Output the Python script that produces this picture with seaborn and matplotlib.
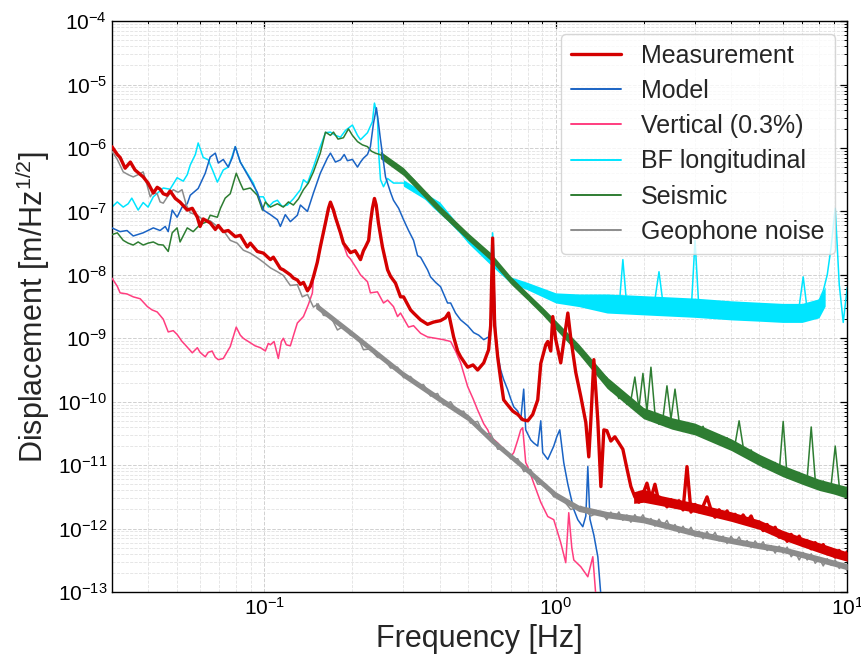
import matplotlib
matplotlib.use("Agg")
import matplotlib.pyplot as plt
import numpy as np
import pandas as pd
import seaborn as sns
from matplotlib.ticker import LogLocator, NullFormatter

# ---------------- data (frequency [Hz], displacement [m/Hz^1/2]) ----------------
# low / mid frequency parts, read as (frequency, value) pairs
measurement = [
    (0.030, 1.05e-6), (0.0313, 7.9e-7), (0.0320, 7.1e-7), (0.0333, 4.8e-7), (0.0347, 6.0e-7),
    (0.0360, 4.5e-7), (0.0384, 3.5e-7), (0.0399, 2.8e-7), (0.0416, 1.95e-7), (0.0429, 2.4e-7),
    (0.0439, 2.24e-7), (0.0450, 1.9e-7), (0.0464, 1.8e-7), (0.0475, 2.1e-7), (0.0495, 1.6e-7),
    (0.0514, 1.4e-7), (0.0544, 1.05e-7), (0.0566, 1.12e-7), (0.0589, 8.1e-8), (0.0602, 5.8e-8),
    (0.0617, 7.6e-8), (0.0652, 6.6e-8), (0.0679, 5.2e-8), (0.0695, 6.0e-8), (0.0723, 4.8e-8),
    (0.0752, 5.0e-8), (0.0795, 4.0e-8), (0.0827, 4.2e-8), (0.0874, 2.75e-8), (0.0895, 3.16e-8),
    (0.0946, 2.34e-8), (0.0993, 2.2e-8), (0.1049, 1.74e-8), (0.1074, 1.9e-8), (0.1135, 1.26e-8),
    (0.1162, 1.2e-8), (0.1228, 1.0e-8), (0.1258, 8.9e-9), (0.1298, 8.3e-9), (0.1330, 7.1e-9),
    (0.1362, 7.6e-9), (0.1406, 5.6e-9), (0.1439, 6.6e-9), (0.1474, 9.3e-9), (0.152, 1.58e-8),
    (0.1556, 2.75e-8), (0.1621, 6.6e-8), (0.166, 1.12e-7), (0.1686, 1.4e-7), (0.1727, 1.05e-7),
    (0.1754, 8.1e-8), (0.1825, 4.6e-8), (0.1868, 3.16e-8), (0.1928, 2.6e-8), (0.1975, 2.24e-8),
    (0.205, 2.4e-8), (0.2138, 1.74e-8), (0.2188, 2.4e-8), (0.2223, 2.75e-8), (0.228, 3.5e-8),
    (0.2312, 6.6e-8), (0.2349, 1.12e-7), (0.2387, 1.6e-7), (0.242, 1.26e-7), (0.2463, 6.6e-8),
    (0.2543, 2.75e-8), (0.2648, 1.2e-8), (0.2710, 9.5e-9), (0.2819, 7.4e-9), (0.2933, 4.5e-9),
    (0.3004, 4.5e-9), (0.3175, 2.8e-9), (0.3251, 2.5e-9), (0.3436, 1.95e-9), (0.3631, 1.66e-9),
    (0.3807, 1.8e-9), (0.4024, 1.9e-9), (0.418, 2.1e-9), (0.4287, 2.5e-9), (0.4462, 1.05e-9),
    (0.4605, 6.3e-10), (0.4716, 5.1e-10), (0.4984, 3.5e-10), (0.520, 3.8e-10), (0.5394, 3.16e-10),
    (0.5660, 4.1e-10), (0.5883, 6.6e-10), (0.5978, 1.58e-9), (0.6072, 3.8e-8), (0.617, 1.58e-9),
    (0.6322, 5.0e-10), (0.6471, 2.24e-10), (0.6624, 1.07e-10), (0.6838, 8.9e-11), (0.712, 7.1e-11),
    (0.7407, 6.3e-11), (0.770, 5.2e-11), (0.8013, 5.0e-11), (0.8334, 6.3e-11), (0.8672, 1.07e-10),
    (0.8882, 4.0e-10), (0.9240, 7.9e-10), (0.9387, 8.9e-10), (0.9612, 6.3e-10), (0.9765, 2.2e-9),
    (1.000, 9.5e-10), (1.040, 4.1e-10), (1.100, 2.5e-9), (1.126, 1.0e-9), (1.171, 2.9e-10),
    (1.219, 1.2e-10), (1.268, 4.7e-11), (1.298, 1.35e-11), (1.319, 5.0e-11), (1.351, 4.6e-10),
    (1.372, 1.58e-10), (1.394, 5.0e-11), (1.428, 4.6e-12), (1.462, 3.6e-11),
]

model = [
    (0.030, 5.5e-8), (0.0320, 4.8e-8), (0.0338, 5.0e-8), (0.0355, 4.1e-8), (0.0384, 4.6e-8),
    (0.0416, 5.5e-8), (0.0439, 5.0e-8), (0.0457, 5.8e-8), (0.0468, 4.8e-8), (0.0483, 1.05e-7),
    (0.0502, 8.1e-8), (0.0522, 1.17e-7), (0.0544, 1.32e-7), (0.0557, 1.8e-7), (0.0593, 2.3e-7),
    (0.0627, 4.0e-7), (0.0652, 7.2e-7), (0.0679, 8.3e-7), (0.0695, 5.8e-7), (0.0723, 6.6e-7),
    (0.0752, 5.0e-7), (0.0777, 7.1e-7), (0.0795, 1.05e-6), (0.0827, 6.0e-7), (0.0895, 3.16e-7),
    (0.0946, 2.0e-7), (0.0993, 1.05e-7), (0.1049, 8.9e-8), (0.1109, 7.4e-8), (0.1135, 5.8e-8),
    (0.118, 8.9e-8), (0.1228, 6.9e-8), (0.1298, 8.7e-8), (0.1330, 1.26e-7), (0.1406, 1.0e-7),
    (0.1474, 1.95e-7), (0.1556, 4.0e-7), (0.1645, 6.9e-7), (0.1686, 8.3e-7), (0.1754, 6.0e-7),
    (0.1825, 6.5e-7), (0.188, 7.9e-7), (0.1928, 6.3e-7), (0.2006, 6.6e-7), (0.2088, 5.0e-7),
    (0.2138, 6.0e-7), (0.2188, 6.9e-7), (0.2259, 7.9e-7), (0.2312, 1.05e-6), (0.2369, 2.45e-6),
    (0.2424, 4.3e-6), (0.2463, 2.5e-6), (0.2504, 1.35e-6), (0.2605, 3.5e-7), (0.2710, 2.0e-7),
    (0.2774, 1.5e-7), (0.289, 1.12e-7), (0.3004, 7.4e-8), (0.3125, 5.0e-8), (0.3251, 3.5e-8),
    (0.3356, 2.0e-8), (0.3436, 1.9e-8), (0.3631, 1.2e-8), (0.3718, 9.3e-9), (0.387, 7.6e-9),
    (0.4024, 6.5e-9), (0.4253, 3.6e-9), (0.4358, 3.6e-9), (0.453, 2.5e-9), (0.4716, 1.95e-9),
    (0.4984, 1.58e-9), (0.5226, 1.23e-9), (0.544, 1.12e-9), (0.566, 9.5e-10), (0.5883, 1.05e-9),
    (0.602, 2.0e-9), (0.6121, 1.07e-8), (0.6221, 1.26e-9), (0.6322, 5.6e-10), (0.6471, 3.16e-10),
    (0.6624, 2.24e-10), (0.6838, 1.55e-10), (0.700, 1.12e-10), (0.7175, 8.3e-11), (0.7407, 7.1e-11),
    (0.7582, 5.2e-11), (0.7762, 1.58e-10), (0.7886, 3.6e-11), (0.8203, 2.5e-11), (0.8400, 2.24e-11),
    (0.867, 2.0e-11), (0.8882, 5.0e-11), (0.902, 1.58e-11), (0.9387, 1.23e-11), (0.9843, 2.0e-11),
    (1.008, 2.8e-11), (1.032, 3.6e-11), (1.065, 1.1e-11), (1.100, 5.0e-12), (1.126, 3.16e-12),
    (1.153, 2.0e-12), (1.190, 1.38e-12), (1.238, 1.07e-12), (1.268, 1.58e-12), (1.288, 9.5e-12),
    (1.31, 1.41e-12), (1.351, 7.9e-13), (1.394, 3.6e-13), (1.428, 8.9e-14), (1.44, 5.0e-14),
]

vertical = [
    (0.030, 8.9e-9), (0.0313, 6.6e-9), (0.0320, 5.2e-9), (0.0338, 5.0e-9), (0.0355, 4.5e-9),
    (0.0375, 4.2e-9), (0.0397, 3.16e-9), (0.0412, 2.8e-9), (0.0429, 2.6e-9), (0.0450, 2.0e-9),
    (0.0468, 1.26e-9), (0.0487, 1.32e-9), (0.0502, 1.15e-9), (0.0522, 8.9e-10), (0.0535, 7.9e-10),
    (0.0566, 5.9e-10), (0.0589, 7.1e-10), (0.0602, 6.0e-10), (0.0627, 5.1e-10), (0.0642, 6.0e-10),
    (0.0662, 6.3e-10), (0.0679, 5.0e-10), (0.0695, 4.6e-10), (0.0723, 4.8e-10), (0.0764, 7.4e-10),
    (0.0801, 1.5e-9), (0.0827, 1.12e-9), (0.0847, 1.0e-9), (0.0895, 8.5e-10), (0.093, 7.6e-10),
    (0.097, 7.1e-10), (0.1008, 6.3e-10), (0.1032, 8.3e-10), (0.1049, 7.9e-10), (0.108, 8.9e-10),
    (0.1117, 4.8e-10), (0.1144, 8.9e-10), (0.1162, 1.0e-9), (0.119, 7.9e-10), (0.1228, 7.6e-10),
    (0.127, 1.26e-9), (0.1298, 1.74e-9), (0.1362, 2.2e-9), (0.1416, 3.4e-9), (0.1462, 5.2e-9),
    (0.1474, 8.9e-9), (0.1556, 2.6e-8), (0.1621, 6.3e-8), (0.1686, 1.32e-7), (0.1754, 7.6e-8),
    (0.1825, 4.4e-8), (0.1868, 3.0e-8), (0.1928, 2.0e-8), (0.1975, 1.78e-8), (0.2088, 1.2e-8),
    (0.2138, 1.0e-8), (0.2259, 7.8e-9), (0.2312, 5.2e-9), (0.2444, 5.4e-9), (0.2564, 3.6e-9),
    (0.2648, 4.0e-9), (0.2774, 3.16e-9), (0.2865, 2.2e-9), (0.2933, 2.5e-9), (0.3125, 1.5e-9),
    (0.3251, 1.58e-9), (0.3436, 1.2e-9), (0.3631, 1.05e-9), (0.387, 1.0e-9), (0.412, 9.5e-10),
    (0.4358, 8.9e-10), (0.453, 6.3e-10), (0.4716, 4.1e-10), (0.4984, 1.74e-10), (0.520, 1.12e-10),
    (0.5394, 7.4e-11), (0.566, 4.5e-11), (0.5842, 3.6e-11), (0.5978, 2.8e-11), (0.6322, 2.24e-11),
    (0.6471, 2.0e-11), (0.6838, 1.58e-11), (0.700, 1.35e-11), (0.7175, 1.58e-11), (0.7407, 2.5e-11),
    (0.7582, 3.6e-11), (0.770, 3.9e-11), (0.7886, 1.1e-11), (0.8013, 9.5e-12), (0.8400, 5.2e-12),
    (0.8882, 2.6e-12), (0.9387, 1.55e-12), (0.9843, 1.38e-12), (1.040, 6.0e-13), (1.082, 2.9e-13),
    (1.108, 1.78e-12), (1.135, 5.0e-13), (1.153, 3.2e-13), (1.219, 2.5e-13), (1.288, 1.74e-13),
    (1.340, 3.6e-13), (1.372, 8.9e-14),
]

bf_longitudinal = [
    (0.030, 1.17e-7), (0.0313, 1.41e-7), (0.0328, 1.17e-7), (0.0341, 1.32e-7), (0.0351, 1.62e-7),
    (0.0369, 1.05e-7), (0.0384, 1.38e-7), (0.0399, 1.17e-7), (0.0416, 1.7e-7), (0.0433, 2.0e-7),
    (0.0450, 2.34e-7), (0.0475, 2.24e-7), (0.0502, 3.4e-7), (0.0527, 3.0e-7), (0.0544, 3.8e-7),
    (0.0557, 5.4e-7), (0.058, 7.9e-7), (0.0593, 1.2e-6), (0.0617, 7.1e-7), (0.0642, 6.5e-7),
    (0.0668, 4.2e-7), (0.0690, 2.9e-7), (0.0723, 4.5e-7), (0.0752, 5.0e-7), (0.0777, 7.6e-7),
    (0.0795, 1.05e-6), (0.0827, 6.0e-7), (0.0874, 4.0e-7), (0.0917, 2.8e-7), (0.0953, 1.7e-7),
    (0.0993, 1.7e-7), (0.1032, 1.17e-7), (0.1074, 1.41e-7), (0.1109, 1.5e-7), (0.115, 1.2e-7),
    (0.1200, 1.26e-7), (0.1258, 1.58e-7), (0.1330, 2.2e-7), (0.1362, 3.16e-7), (0.1406, 2.8e-7),
    (0.1474, 5.0e-7), (0.1556, 1.05e-6), (0.1621, 1.74e-6), (0.1686, 1.78e-6), (0.1754, 1.58e-6),
    (0.1825, 1.48e-6), (0.190, 1.9e-6), (0.2006, 2.3e-6), (0.2088, 1.58e-6), (0.2138, 1.35e-6),
    (0.2259, 1.74e-6), (0.2349, 2.6e-6), (0.2387, 5.1e-6), (0.2444, 3.16e-6), (0.247, 7.9e-7),
    (0.2504, 3.16e-7), (0.2564, 2.45e-7), (0.2648, 3.3e-7), (0.2774, 2.8e-7), (0.3004, 2.8e-7),
    (0.3251, 2.2e-7), (0.3518, 1.7e-7), (0.3807, 1.17e-7), (0.4253, 7.4e-8), (0.4605, 5.1e-8),
    (0.4984, 3.5e-8), (0.5523, 2.45e-8), (0.5978, 1.66e-8), (0.6072, 4.6e-8), (0.617, 1.41e-8),
    (0.6471, 1.2e-8), (0.700, 8.3e-9), (0.7582, 7.4e-9), (0.8400, 5.8e-9), (0.9612, 4.5e-9),
    (1.100, 4.1e-9), (1.248, 4.0e-9), (1.40, 3.9e-9),
]

seismic = [
    (0.030, 4.3e-8), (0.0313, 4.6e-8), (0.0328, 3.5e-8), (0.0341, 3.16e-8), (0.0355, 2.95e-8),
    (0.0369, 3.3e-8), (0.0384, 2.95e-8), (0.0399, 3.16e-8), (0.0416, 3.3e-8), (0.0433, 3.0e-8),
    (0.0450, 2.95e-8), (0.0468, 2.34e-8), (0.0483, 4.6e-8), (0.0502, 5.5e-8), (0.0514, 3.3e-8),
    (0.0544, 5.5e-8), (0.0570, 4.8e-8), (0.0602, 6.2e-8), (0.0637, 6.9e-8), (0.0652, 8.7e-8),
    (0.0690, 8.1e-8), (0.0707, 1.12e-7), (0.0734, 1.62e-7), (0.0764, 1.9e-7), (0.0801, 4.0e-7),
    (0.0827, 2.8e-7), (0.0847, 2.2e-7), (0.0895, 2.34e-7), (0.0946, 1.8e-7), (0.0985, 1.05e-7),
    (0.1008, 1.41e-7), (0.1049, 1.17e-7), (0.1109, 1.32e-7), (0.1162, 1.17e-7), (0.121, 1.41e-7),
    (0.1258, 1.26e-7), (0.131, 1.58e-7), (0.1362, 2.2e-7), (0.1416, 2.8e-7), (0.1474, 4.2e-7),
    (0.1556, 8.3e-7), (0.1621, 1.78e-6), (0.1686, 1.58e-6), (0.1727, 1.78e-6), (0.179, 1.38e-6),
    (0.1868, 1.45e-6), (0.1944, 2.0e-6), (0.2006, 1.58e-6), (0.2088, 1.26e-6), (0.217, 1.12e-6),
    (0.2259, 1.05e-6), (0.233, 8.9e-7), (0.2404, 8.3e-7), (0.2504, 7.8e-7), (0.2605, 7.1e-7),
    (0.2710, 6.0e-7), (0.2819, 5.6e-7), (0.2933, 4.5e-7), (0.3101, 3.8e-7), (0.3251, 3.16e-7),
    (0.3436, 2.4e-7), (0.3631, 1.7e-7), (0.3807, 1.41e-7), (0.4024, 1.05e-7), (0.4253, 8.3e-8),
    (0.4462, 6.6e-8), (0.4716, 5.0e-8), (0.4984, 4.0e-8), (0.5226, 3.3e-8), (0.5523, 2.75e-8),
    (0.5842, 2.24e-8), (0.6121, 1.78e-8), (0.6471, 1.2e-8), (0.6838, 8.9e-9), (0.7407, 6.5e-9),
    (0.7886, 4.8e-9), (0.8400, 3.6e-9), (0.8882, 2.8e-9), (0.9612, 1.95e-9), (1.024, 1.41e-9),
    (1.100, 1.05e-9), (1.171, 7.6e-10), (1.248, 5.1e-10), (1.319, 3.8e-10), (1.394, 2.9e-10),
]

geophone_noise = [
    (0.030, 8.9e-7), (0.0313, 6.6e-7), (0.0328, 4.2e-7), (0.0341, 3.8e-7), (0.0355, 3.5e-7),
    (0.0369, 3.8e-7), (0.0384, 4.2e-7), (0.0397, 2.5e-7), (0.0406, 1.7e-7), (0.0416, 2.0e-7),
    (0.0429, 1.9e-7), (0.0439, 1.41e-7), (0.0450, 1.35e-7), (0.0468, 1.78e-7), (0.0487, 2.2e-7),
    (0.0506, 2.0e-7), (0.0522, 2.2e-7), (0.054, 1.26e-7), (0.0557, 9.5e-8), (0.0584, 8.9e-8),
    (0.0617, 7.4e-8), (0.0652, 7.1e-8), (0.0690, 5.8e-8), (0.0728, 4.8e-8), (0.0764, 3.5e-8),
    (0.0807, 3.16e-8), (0.0847, 2.45e-8), (0.0895, 2.2e-8), (0.0946, 1.86e-8), (0.0993, 1.58e-8),
    (0.1049, 1.29e-8), (0.1109, 1.12e-8), (0.1162, 9.8e-9), (0.1228, 6.8e-9), (0.1298, 7.0e-9),
    (0.135, 4.5e-9), (0.1406, 4.9e-9), (0.1474, 3.1e-9), (0.153, 3.5e-9), (0.1595, 2.3e-9),
    (0.1686, 2.24e-9), (0.1782, 1.35e-9), (0.1868, 1.55e-9), (0.1975, 1.12e-9), (0.2088, 1.07e-9),
    (0.2188, 6.6e-10), (0.2312, 6.8e-10), (0.2444, 5.0e-10), (0.2564, 4.9e-10), (0.2710, 3.4e-10),
    (0.2865, 3.5e-10), (0.3004, 2.4e-10), (0.3175, 2.5e-10), (0.3356, 1.78e-10), (0.3518, 1.86e-10),
    (0.3718, 1.23e-10), (0.393, 1.35e-10), (0.412, 8.9e-11), (0.4358, 1.0e-10), (0.4605, 6.8e-11),
    (0.4829, 7.1e-11), (0.510, 4.6e-11), (0.5394, 4.9e-11), (0.566, 3.1e-11), (0.5978, 3.16e-11),
    (0.6322, 1.78e-11), (0.6624, 1.86e-11), (0.700, 1.26e-11), (0.7407, 1.26e-11), (0.7762, 7.9e-12),
    (0.8203, 8.5e-12), (0.8672, 5.0e-12), (0.924, 5.0e-12), (0.9843, 3.16e-12), (1.040, 3.16e-12),
    (1.126, 2.0e-12), (1.219, 2.24e-12), (1.319, 1.58e-12), (1.428, 1.86e-12),
]

# high-frequency (1.5-10 Hz) noisy parts, all read on one common frequency grid
hf_freq = [
    1.497, 1.545, 1.595, 1.646, 1.699, 1.754, 1.810, 1.868, 1.929, 1.991,
    2.055, 2.121, 2.189, 2.260, 2.332, 2.407, 2.485, 2.565, 2.647, 2.733,
    2.820, 2.911, 3.005, 3.101, 3.201, 3.304, 3.410, 3.520, 3.633, 3.750,
    3.870, 3.995, 4.123, 4.256, 4.393, 4.534, 4.680, 4.830, 4.986, 5.146,
    5.312, 5.482, 5.659, 5.841, 6.029, 6.223, 6.423, 6.629, 6.842, 7.062,
    7.289, 7.524, 7.766, 8.016, 8.274, 8.540, 8.810, 9.096, 9.388, 9.689,
    10.0,
]
measurement_hf = [
    3.5e-11, 2.4e-11, 2.8e-11, 2.24e-11, 1.78e-11, 8.9e-12, 4.6e-12, 3.16e-12, 2.6e-12, 3.5e-12,
    5.2e-12, 3.0e-12, 5.0e-12, 2.6e-12, 2.9e-12, 2.2e-12, 2.86e-12, 2.2e-12, 2.75e-12, 1.97e-12,
    9.5e-12, 1.82e-12, 2.4e-12, 1.84e-12, 2.24e-12, 3.16e-12, 1.97e-12, 1.51e-12, 1.98e-12, 1.53e-12,
    1.9e-12, 1.39e-12, 1.68e-12, 1.29e-12, 1.64e-12, 1.3e-12, 1.58e-12, 1.1e-12, 1.27e-12, 9.3e-13,
    1.16e-12, 8.8e-13, 1.05e-12, 7.3e-13, 8.4e-13, 6.3e-13, 8.1e-13, 6.2e-13, 7.6e-13, 5.4e-13,
    6.4e-13, 4.8e-13, 6.0e-13, 4.6e-13, 5.6e-13, 4.0e-13, 4.7e-13, 3.55e-13, 4.5e-13, 3.5e-13,
    4.3e-13,
]
bf_longitudinal_hf = [
    4.5e-9, 2.9e-9, 3.9e-9, 2.76e-9, 1.74e-8, 3.05e-9, 4.3e-9, 2.8e-9, 3.77e-9, 2.65e-9,
    4.0e-9, 2.93e-9, 4.1e-9, 1.12e-8, 3.6e-9, 2.54e-9, 3.8e-9, 2.8e-9, 3.9e-9, 2.6e-9,
    3.47e-9, 2.44e-9, 3.5e-8, 2.7e-9, 3.8e-9, 2.5e-9, 3.3e-9, 2.34e-9, 3.5e-9, 2.6e-9,
    3.6e-9, 2.4e-9, 3.2e-9, 2.24e-9, 3.4e-9, 2.5e-9, 3.5e-9, 2.3e-9, 3.06e-9, 2.15e-9,
    3.24e-9, 2.4e-9, 3.34e-9, 2.2e-9, 2.94e-9, 2.07e-9, 3.1e-9, 2.3e-9, 3.2e-9, 9.3e-9,
    2.8e-9, 2.1e-9, 3.6e-9, 4.0e-9, 5.6e-9, 1.0e-8, 2.8e-8, 1.12e-7, 7.1e-9, 1.78e-9,
    6.3e-9,
]
seismic_hf = [
    2.4e-10, 1.5e-10, 1.66e-10, 1.12e-10, 1.33e-10, 9.1e-11, 1.05e-10, 2.45e-10, 7.9e-11, 2.8e-10,
    7.0e-11, 3.5e-10, 6.5e-11, 4.4e-11, 5.5e-11, 1.78e-10, 5.3e-11, 1.58e-10, 5.0e-11, 3.4e-11,
    4.3e-11, 3.16e-11, 4.3e-11, 3.2e-11, 4.1e-11, 2.73e-11, 3.2e-11, 2.3e-11, 2.98e-11, 2.2e-11,
    2.7e-11, 1.8e-11, 2.14e-11, 5.0e-11, 1.97e-11, 1.45e-11, 1.74e-11, 1.14e-11, 1.32e-11, 9.3e-12,
    1.21e-11, 8.9e-12, 1.1e-11, 7.5e-12, 4.9e-11, 6.3e-12, 8.4e-12, 6.2e-12, 7.6e-12, 5.2e-12,
    6.3e-12, 4.0e-11, 5.9e-12, 4.5e-12, 5.6e-12, 3.9e-12, 4.9e-12, 2.0e-11, 4.7e-12, 3.55e-12,
    4.5e-12,
]
geophone_noise_hf = [
    1.38e-12, 1.82e-12, 1.46e-12, 1.83e-12, 1.35e-12, 1.64e-12, 1.26e-12, 1.66e-12, 1.32e-12, 1.65e-12,
    1.21e-12, 1.44e-12, 1.09e-12, 1.41e-12, 1.1e-12, 1.35e-12, 9.8e-13, 1.16e-12, 8.6e-13, 1.09e-12,
    8.5e-13, 1.05e-12, 7.6e-13, 9.1e-13, 6.9e-13, 9.0e-13, 7.1e-13, 8.7e-13, 6.4e-13, 7.6e-13,
    5.8e-13, 7.6e-13, 6.0e-13, 7.4e-13, 5.4e-13, 6.5e-13, 5.0e-13, 6.4e-13, 5.1e-13, 6.2e-13,
    4.5e-13, 5.4e-13, 4.1e-13, 5.3e-13, 4.1e-13, 5.1e-13, 3.6e-13, 4.3e-13, 3.2e-13, 4.2e-13,
    3.2e-13, 4.0e-13, 2.84e-13, 3.4e-13, 2.58e-13, 3.35e-13, 2.63e-13, 3.2e-13, 2.35e-13, 2.8e-13,
    2.14e-13,
]

# spread (lower / upper edge) of the dense noise bands
measurement_band = [
    (1.85, 2.5e-12, 3.8e-12), (2.0, 2.6e-12, 4.2e-12), (2.3, 2.3e-12, 3.3e-12),
    (3.0, 1.8e-12, 2.54e-12), (4.0, 1.3e-12, 1.84e-12), (5.0, 9.7e-13, 1.36e-12),
    (6.0, 6.7e-13, 9.4e-13), (7.0, 5.2e-13, 7.3e-13), (8.0, 4.2e-13, 6.0e-13),
    (9.0, 3.5e-13, 5.0e-13), (10.0, 3.05e-13, 4.3e-13),
]
bf_longitudinal_band = [
    (0.3, 2.5e-7, 3.16e-7), (0.4, 1.12e-7, 1.41e-7), (0.5, 3.16e-8, 4.0e-8),
    (0.6, 1.41e-8, 1.78e-8), (0.7, 7.4e-9, 9.3e-9), (0.8, 5.8e-9, 7.6e-9),
    (1.0, 3.6e-9, 5.2e-9), (1.2, 3.16e-9, 5.0e-9), (1.5, 2.5e-9, 5.0e-9),
    (2.0, 2.34e-9, 4.7e-9), (3.0, 2.14e-9, 4.3e-9), (4.0, 1.95e-9, 3.9e-9),
    (5.0, 1.86e-9, 3.7e-9), (6.0, 1.78e-9, 3.55e-9), (7.0, 1.78e-9, 3.55e-9),
    (8.0, 2.1e-9, 4.2e-9), (8.4, 3.2e-9, 6.5e-9),
]
seismic_band = [
    (0.25, 6.8e-7, 8.9e-7), (0.3, 3.7e-7, 4.9e-7), (0.4, 9.3e-8, 1.23e-7),
    (0.5, 3.5e-8, 4.6e-8), (0.6, 1.66e-8, 2.2e-8), (0.7, 7.2e-9, 9.5e-9),
    (0.8, 4.0e-9, 5.2e-9), (0.9, 2.34e-9, 3.1e-9), (1.0, 1.38e-9, 1.9e-9),
    (1.2, 5.6e-10, 8.1e-10), (1.5, 1.62e-10, 2.45e-10), (2.0, 5.4e-11, 8.1e-11),
    (2.5, 3.7e-11, 5.6e-11), (3.0, 3.0e-11, 4.6e-11), (4.0, 1.7e-11, 2.6e-11),
    (5.0, 9.8e-12, 1.48e-11), (6.0, 6.6e-12, 1.0e-11), (7.0, 5.0e-12, 7.6e-12),
    (8.0, 4.0e-12, 6.0e-12), (9.0, 3.5e-12, 5.2e-12), (10.0, 3.0e-12, 4.6e-12),
]
geophone_noise_band = [
    (0.15, 2.95e-9, 3.7e-9), (0.2, 1.05e-9, 1.32e-9), (0.3, 2.4e-10, 3.0e-10),
    (0.4, 9.8e-11, 1.23e-10), (0.5, 5.0e-11, 6.3e-11), (0.6, 2.24e-11, 2.8e-11),
    (0.8, 7.4e-12, 9.3e-12), (1.0, 3.0e-12, 3.8e-12), (1.2, 1.86e-12, 2.34e-12),
    (1.5, 1.48e-12, 1.86e-12), (2.0, 1.23e-12, 1.55e-12), (3.0, 7.6e-13, 9.5e-13),
    (4.0, 5.8e-13, 7.2e-13), (5.0, 4.8e-13, 6.0e-13), (6.0, 4.2e-13, 5.2e-13),
    (8.0, 2.95e-13, 3.7e-13), (10.0, 2.24e-13, 2.8e-13),
]

labels = ["Measurement", "Model", "Vertical (0.3%)", "BF longitudinal", "Seismic", "Geophone noise"]
low_parts = [measurement, model, vertical, bf_longitudinal, seismic, geophone_noise]
high_parts = [measurement_hf, None, None, bf_longitudinal_hf, seismic_hf, geophone_noise_hf]
bands = [measurement_band, None, None, bf_longitudinal_band, seismic_band, geophone_noise_band]
colors = ["#d40000", "#1a63c4", "#ff3d7f", "#00e5ff", "#2e7d32", "#8c8c8c"]
widths = [2.4, 1.1, 1.1, 1.1, 1.1, 1.1]
zorders = [6, 4, 4, 2, 3, 5]

# ---------------- figure ----------------
sns.set_theme(style="white")
plt.rcParams["font.family"] = ["Liberation Sans", "DejaVu Sans"]
plt.rcParams["mathtext.fontset"] = "custom"
plt.rcParams["mathtext.rm"] = "Liberation Sans"
plt.rcParams["mathtext.it"] = "Liberation Sans:italic"
plt.rcParams["mathtext.bf"] = "Liberation Sans:bold"

fig, ax = plt.subplots(figsize=(8.61, 6.6), dpi=100)
fig.subplots_adjust(left=0.130, right=0.984, bottom=0.103, top=0.968)

for low, high, band, lab, col, lw, zo in zip(low_parts, high_parts, bands, labels,
                                              colors, widths, zorders):
    df = pd.DataFrame(low, columns=["freq", "amp"])
    if high is not None:
        df = pd.concat([df, pd.DataFrame({"freq": hf_freq, "amp": high})], ignore_index=True)
    sns.lineplot(data=df, x="freq", y="amp", ax=ax, color=col, linewidth=lw,
                 label=lab, estimator=None, sort=False, zorder=zo)
    if band is not None:
        bdf = pd.DataFrame(band, columns=["freq", "lo", "hi"])
        ax.fill_between(bdf["freq"], bdf["lo"], bdf["hi"], color=col, alpha=1.0,
                        linewidth=0, zorder=zo - 0.5)

ax.set_xscale("log")
ax.set_yscale("log")
ax.set_xlim(0.03, 10)
ax.set_ylim(1e-13, 1e-4)

ax.xaxis.set_major_locator(LogLocator(base=10, numticks=20))
ax.xaxis.set_minor_locator(LogLocator(base=10, subs=np.arange(2, 10), numticks=20))
ax.yaxis.set_major_locator(LogLocator(base=10, numticks=20))
ax.yaxis.set_minor_locator(LogLocator(base=10, subs=np.arange(2, 10), numticks=20))
ax.xaxis.set_minor_formatter(NullFormatter())
ax.yaxis.set_minor_formatter(NullFormatter())

ax.grid(True, which="major", linestyle="--", color="#d0d0d0", linewidth=0.7, zorder=0)
ax.grid(True, which="minor", linestyle="--", color="#e2e2e2", linewidth=0.6, zorder=0)
ax.set_axisbelow(True)

ax.tick_params(which="both", direction="in", top=True, right=True, colors="black",
               labelsize=15)
ax.tick_params(which="major", length=5, width=0.9)
ax.tick_params(which="minor", length=2.5, width=0.7)
for sp in ax.spines.values():
    sp.set_color("black")
    sp.set_linewidth(1.0)

ax.set_xlabel("Frequency [Hz]", fontsize=22)
ax.set_ylabel("Displacement [m/Hz$^{1/2}$]", fontsize=22)

leg = ax.legend(loc="upper right", fontsize=18, frameon=True, framealpha=0.8,
                edgecolor="#cccccc", handlelength=2.0, labelspacing=0.45,
                borderaxespad=0.5)
for line in leg.get_lines():
    line.set_linewidth(2.4 if line.get_label() == "Measurement" else 1.4)

fig.savefig("out.png", dpi=100)
